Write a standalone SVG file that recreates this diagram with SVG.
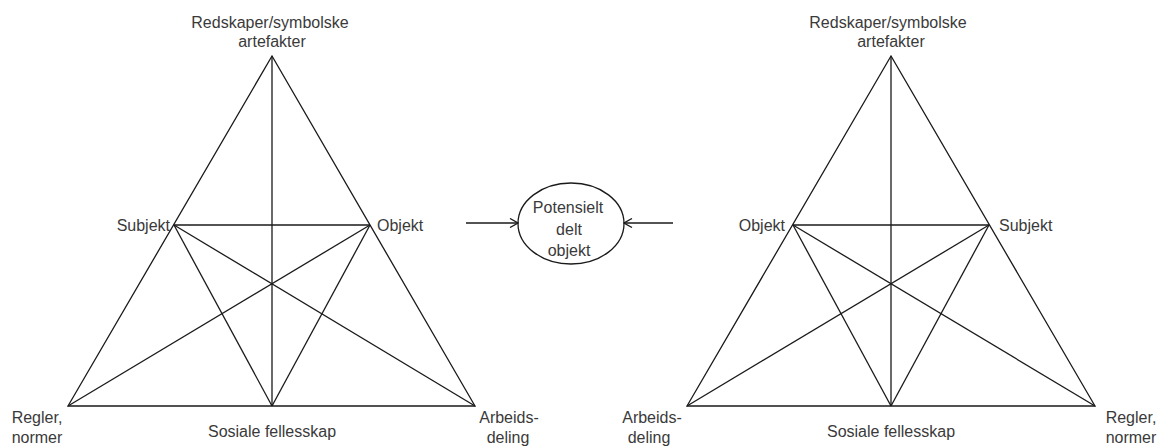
<svg xmlns="http://www.w3.org/2000/svg" width="1163" height="448" viewBox="0 0 1163 448">
  <style>
    .edge { fill: none; stroke: #1a1a1a; stroke-width: 1.3; stroke-linejoin: miter; }
    .lbl { font-family: "Liberation Sans", Arial, sans-serif; font-size: 16px; fill: #3a3a3a; }
    .mid { text-anchor: middle; }
    .end { text-anchor: end; }
  </style>
  <defs>
    <marker id="openArrow" viewBox="0 0 10 10" refX="9" refY="5" markerWidth="10" markerHeight="10" markerUnits="userSpaceOnUse" orient="auto">
      <path d="M1,0.5 L9,5 L1,9.5" fill="none" stroke="#1a1a1a" stroke-width="1.3"/>
    </marker>
  </defs>

  <rect width="1163" height="448" fill="#ffffff"/>

  <!-- Left activity system -->
  <g id="left-system">
    <g id="left-lines" class="edge">
      <polygon points="272,56 68,406 475,406"/>
      <line x1="272" y1="56" x2="272" y2="406"/>
      <line x1="174" y1="225" x2="370" y2="225"/>
      <line x1="174" y1="225" x2="475" y2="406"/>
      <line x1="370" y1="225" x2="68" y2="406"/>
      <line x1="174" y1="225" x2="272" y2="406"/>
      <line x1="370" y1="225" x2="272" y2="406"/>
    </g>
    <g id="left-tools">
      <text class="lbl mid" x="270" y="28">Redskaper/symbolske</text>
      <text class="lbl mid" x="272" y="47">artefakter</text>
    </g>
    <g id="left-subject"><text class="lbl end" x="170" y="231">Subjekt</text></g>
    <g id="left-object"><text class="lbl" x="377" y="231">Objekt</text></g>
    <g id="left-rules">
      <text class="lbl mid" x="37" y="423">Regler,</text>
      <text class="lbl mid" x="37" y="443">normer</text>
    </g>
    <g id="left-community"><text class="lbl mid" x="272" y="437">Sosiale fellesskap</text></g>
    <g id="left-division">
      <text class="lbl mid" x="509" y="423">Arbeids-</text>
      <text class="lbl mid" x="508" y="443">deling</text>
    </g>
  </g>

  <!-- Shared object -->
  <g id="shared-object">
    <ellipse class="edge" cx="571" cy="223.5" rx="53" ry="40.5"/>
    <text class="lbl mid" x="568" y="213">Potensielt</text>
    <text class="lbl mid" x="569" y="235">delt</text>
    <text class="lbl mid" x="569" y="256">objekt</text>
  </g>

  <!-- Right activity system -->
  <g id="right-system">
    <g id="right-lines" class="edge">
      <polygon points="891,56 687,406 1095,406"/>
      <line x1="891" y1="56" x2="891" y2="406"/>
      <line x1="793" y1="225" x2="989" y2="225"/>
      <line x1="793" y1="225" x2="1095" y2="406"/>
      <line x1="989" y1="225" x2="687" y2="406"/>
      <line x1="793" y1="225" x2="891" y2="406"/>
      <line x1="989" y1="225" x2="891" y2="406"/>
    </g>
    <g id="right-tools">
      <text class="lbl mid" x="888" y="28">Redskaper/symbolske</text>
      <text class="lbl mid" x="891" y="47">artefakter</text>
    </g>
    <g id="right-object"><text class="lbl end" x="785" y="231">Objekt</text></g>
    <g id="right-subject"><text class="lbl" x="999" y="231">Subjekt</text></g>
    <g id="right-division">
      <text class="lbl mid" x="652" y="423">Arbeids-</text>
      <text class="lbl mid" x="649" y="443">deling</text>
    </g>
    <g id="right-community"><text class="lbl mid" x="891" y="437">Sosiale fellesskap</text></g>
    <g id="right-rules">
      <text class="lbl mid" x="1131" y="423">Regler,</text>
      <text class="lbl mid" x="1131" y="443">normer</text>
    </g>
  </g>

  <!-- Connectors into the shared object -->
  <g id="connectors" class="edge">
    <line x1="466" y1="223" x2="518" y2="223" marker-end="url(#openArrow)"/>
    <line x1="673" y1="223" x2="624" y2="223" marker-end="url(#openArrow)"/>
  </g>
</svg>
